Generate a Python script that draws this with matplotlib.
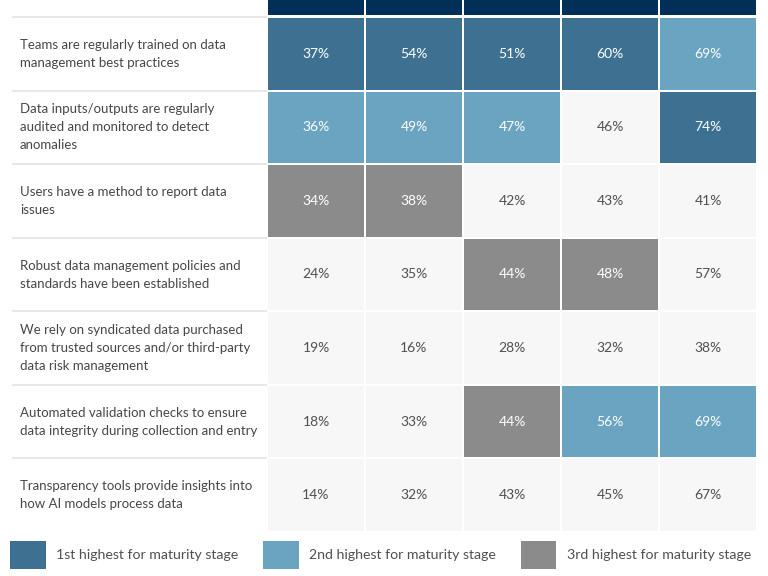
import numpy as np
import matplotlib
matplotlib.use('Agg')
import matplotlib.pyplot as plt
from matplotlib.colors import ListedColormap
from matplotlib.patches import Patch

plt.rcParams['font.family'] = ['Lato', 'DejaVu Sans']

# rows of the table
labels = [
    'Teams are regularly trained on data\nmanagement best practices',
    'Data inputs/outputs are regularly\naudited and monitored to detect\nanomalies',
    'Users have a method to report data\nissues',
    'Robust data management policies and\nstandards have been established',
    'We rely on syndicated data purchased\nfrom trusted sources and/or third-party\ndata risk management',
    'Automated validation checks to ensure\ndata integrity during collection and entry',
    'Transparency tools provide insights into\nhow AI models process data',
]

# percent per maturity stage (5 columns)
values = [
    [37, 54, 51, 60, 69],
    [36, 49, 47, 46, 74],
    [34, 38, 42, 43, 41],
    [24, 35, 44, 48, 57],
    [19, 16, 28, 32, 38],
    [18, 33, 44, 56, 69],
    [14, 32, 43, 45, 67],
]

# 0 = not highlighted, 1/2/3 = rank for maturity stage
ranks = [
    [1, 1, 1, 1, 2],
    [2, 2, 2, 0, 1],
    [3, 3, 0, 0, 0],
    [0, 0, 3, 3, 0],
    [0, 0, 0, 0, 0],
    [0, 0, 3, 2, 2],
    [0, 0, 0, 0, 0],
]

legend_labels = ['1st highest for maturity stage',
                 '2nd highest for maturity stage',
                 '3rd highest for maturity stage']

light = '#f7f7f7'
c1 = '#3e7191'
c2 = '#6ba4c1'
c3 = '#8a8b8a'
navy = '#003057'
label_col = '#474747'

W, H = 768, 576
fig = plt.figure(figsize=(W / 100, H / 100), dpi=100)

# main grid area in pixels
gx0, gx1 = 267, 757
gy0, gy1 = 17, 532
ax = fig.add_axes([gx0 / W, 1 - gy1 / H, (gx1 - gx0) / W, (gy1 - gy0) / H])

vals = np.array(values)
rk = np.array(ranks)
nrow, ncol = vals.shape
cmap = ListedColormap([light, c1, c2, c3])
ax.pcolormesh(rk, cmap=cmap, vmin=-0.5, vmax=3.5, edgecolors='white', linewidth=1.2)
ax.set_xlim(0, ncol)
ax.set_ylim(nrow, 0)
ax.axis('off')

for i in range(nrow):
    for j in range(ncol):
        col = 'white' if rk[i, j] else '#505050'
        ax.text(j + 0.5, i + 0.5, f'{vals[i, j]}%', ha='center', va='center',
                color=col, fontsize=10)

# row labels and separators
lab_x = (20 - gx0) / (gx1 - gx0) * ncol
sep_x = (12 - gx0) / (gx1 - gx0) * ncol
for i, lab in enumerate(labels):
    ax.text(lab_x, i + 0.5, lab, ha='left', va='center', color=label_col,
            fontsize=9.5, linespacing=1.6)
ax.hlines(np.arange(nrow), sep_x, 0, color='#e8e8e8', linewidth=1.5, clip_on=False)

# header strip (its top runs past the image edge)
hax = fig.add_axes([gx0 / W, 1 - 16 / H, (gx1 - gx0) / W, 40 / H])
hax.pcolormesh(np.zeros((1, ncol)), cmap=ListedColormap([navy]),
               edgecolors='white', linewidth=1.2)
hax.set_xlim(0, ncol)
hax.set_ylim(0, 1.02)
hax.axis('off')

handles = [Patch(facecolor=c, edgecolor='none') for c in (c1, c2, c3)]
fig.legend(handles, legend_labels, loc='lower left', bbox_to_anchor=(0.004, 0.0),
           ncol=3, frameon=False, fontsize=10.2, labelcolor='#505050',
           handlelength=2.5, handleheight=2.7, handletextpad=0.75,
           columnspacing=1.75, borderaxespad=0.1)

fig.savefig('out.png', dpi=100)
